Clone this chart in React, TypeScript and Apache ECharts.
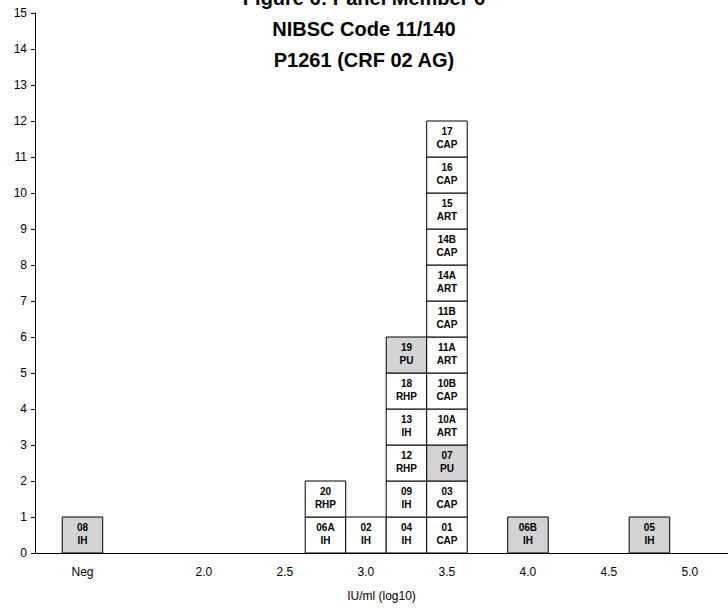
import React, { useEffect, useRef } from "react";
import * as echarts from "echarts";

// Panel results: one box per laboratory/assay, stacked within each log10 bin.
const titleLines = ["Figure 6: Panel Member 6", "NIBSC Code 11/140", "P1261 (CRF 02 AG)"];
const xAxisName = "IU/ml (log10)";

// Bin positions on the log10 axis (Neg is drawn at its own slot left of 2.0)
const negPosition = 1.25;
const tickValues = [negPosition, 2.0, 2.5, 3.0, 3.5, 4.0, 4.5, 5.0];
const binWidth = 0.25;

const sampleIds = [
  "08",
  "06A", "20",
  "02",
  "04", "09", "12", "13", "18", "19",
  "01", "03", "07", "10A", "10B", "11A", "11B", "14A", "14B", "15", "16", "17",
  "06B",
  "05",
];
const sampleMethods = [
  "IH",
  "IH", "RHP",
  "IH",
  "IH", "IH", "RHP", "IH", "RHP", "PU",
  "CAP", "CAP", "PU", "ART", "CAP", "ART", "CAP", "ART", "CAP", "ART", "CAP", "CAP",
  "IH",
  "IH",
];
const sampleBins = [
  negPosition,
  2.75, 2.75,
  3.0,
  3.25, 3.25, 3.25, 3.25, 3.25, 3.25,
  3.5, 3.5, 3.5, 3.5, 3.5, 3.5, 3.5, 3.5, 3.5, 3.5, 3.5, 3.5,
  4.0,
  4.75,
];
const sampleShaded = [
  true,
  false, false,
  false,
  false, false, false, false, false, true,
  false, false, true, false, false, false, false, false, false, false, false, false,
  true,
  true,
];

const FONT = "'Liberation Sans', Arial, Helvetica, sans-serif";

export default function App() {
  const ref = useRef<HTMLDivElement>(null);

  useEffect(() => {
    if (!ref.current) return;
    const chart = echarts.init(ref.current, undefined, { renderer: "svg" });

    // stack level of each box inside its bin
    const counts: Record<string, number> = {};
    const data = sampleIds.map((_id, i) => {
      const key = String(sampleBins[i]);
      const level = counts[key] ?? 0;
      counts[key] = level + 1;
      return [sampleBins[i], level];
    });

    chart.setOption({
      animation: false,
      backgroundColor: "#ffffff",
      title: {
        text: titleLines.join("\n"),
        left: "center",
        top: -23,
        textStyle: {
          fontFamily: FONT,
          fontWeight: "bold",
          fontSize: 20,
          lineHeight: 31,
          color: "#000",
        },
      },
      grid: { left: 35, right: 0, top: 13, bottom: 59, containLabel: false },
      xAxis: {
        type: "value",
        min: 0.957,
        max: 5.235,
        name: xAxisName,
        nameLocation: "middle",
        nameGap: 37,
        nameTextStyle: { fontFamily: FONT, fontSize: 12, color: "#000" },
        axisLine: { show: true, onZero: false, lineStyle: { color: "#000", width: 1 } },
        axisTick: { show: false },
        splitLine: { show: false },
        axisLabel: {
          customValues: tickValues,
          margin: 13,
          fontFamily: FONT,
          fontSize: 12,
          color: "#000",
          formatter: (v: number) => (v === negPosition ? "Neg" : v.toFixed(1)),
        },
      },
      yAxis: {
        type: "value",
        min: 0,
        max: 15,
        interval: 1,
        axisLine: { show: true, lineStyle: { color: "#000", width: 1 } },
        axisTick: { show: true, length: 4, lineStyle: { color: "#000" } },
        splitLine: { show: false },
        axisLabel: { margin: 8, fontFamily: FONT, fontSize: 12, color: "#000" },
      },
      series: [
        {
          type: "custom",
          data,
          encode: { x: 0, y: 1 },
          renderItem: (params: any, api: any) => {
            const idx = params.dataIndex as number;
            const x = api.value(0) as number;
            const lvl = api.value(1) as number;
            const shaded = sampleShaded[idx];
            const tl = api.coord([x - binWidth / 2, lvl + 1]);
            const br = api.coord([x + binWidth / 2, lvl]);
            const cx = (tl[0] + br[0]) / 2;
            const top = tl[1];
            return {
              type: "group",
              children: [
                {
                  type: "rect",
                  shape: { x: tl[0], y: tl[1], width: br[0] - tl[0], height: br[1] - tl[1] },
                  style: { fill: shaded ? "#d3d3d3" : "#ffffff", stroke: "#000", lineWidth: 1 },
                },
                {
                  type: "text",
                  style: {
                    text: sampleIds[idx],
                    x: cx,
                    y: top + 10,
                    align: "center",
                    verticalAlign: "middle",
                    font: `bold 10px ${FONT}`,
                    fill: "#000",
                  },
                },
                {
                  type: "text",
                  style: {
                    text: sampleMethods[idx],
                    x: cx,
                    y: top + 23,
                    align: "center",
                    verticalAlign: "middle",
                    font: `bold 10px ${FONT}`,
                    fill: "#000",
                  },
                },
              ],
            };
          },
        },
      ],
    });

    return () => chart.dispose();
  }, []);

  return <div ref={ref} style={{ width: 728, height: 612, position: "absolute", left: 0, top: 0 }} />;
}
